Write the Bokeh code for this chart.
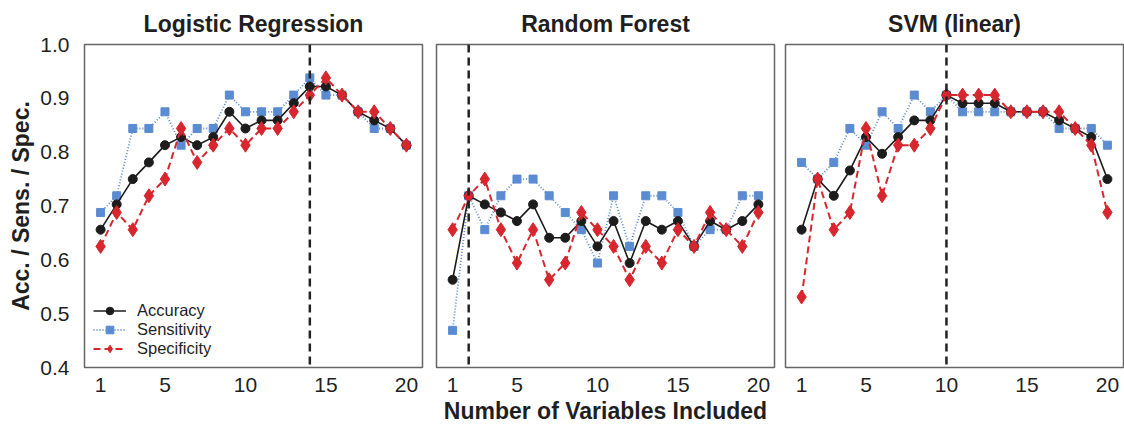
from bokeh.plotting import figure
from bokeh.layouts import row
from bokeh.models import Span, Legend, LegendItem, FixedTicker, NumeralTickFormatter, Range1d
from bokeh.embed import file_html
from bokeh.resources import INLINE

n_vars = list(range(1, 21))
titles = ["Logistic Regression", "Random Forest", "SVM (linear)"]
best_n = [14, 2, 10]
x_ticks = [1, 5, 10, 15, 20]
y_ticks = [0.4, 0.5, 0.6, 0.7, 0.8, 0.9, 1.0]

lr_acc = [0.656, 0.703, 0.750, 0.781, 0.813, 0.828, 0.813, 0.828, 0.875, 0.844,
          0.859, 0.859, 0.891, 0.922, 0.922, 0.906, 0.875, 0.859, 0.844, 0.813]
lr_sens = [0.688, 0.719, 0.844, 0.844, 0.875, 0.813, 0.844, 0.844, 0.906, 0.875,
           0.875, 0.875, 0.906, 0.938, 0.906, 0.906, 0.875, 0.844, 0.844, 0.813]
lr_spec = [0.625, 0.688, 0.656, 0.719, 0.750, 0.844, 0.781, 0.813, 0.844, 0.813,
           0.844, 0.844, 0.875, 0.906, 0.938, 0.906, 0.875, 0.875, 0.844, 0.813]

rf_acc = [0.563, 0.719, 0.703, 0.688, 0.672, 0.703, 0.641, 0.641, 0.672, 0.625,
          0.672, 0.594, 0.672, 0.656, 0.672, 0.625, 0.672, 0.656, 0.672, 0.703]
rf_sens = [0.469, 0.719, 0.656, 0.719, 0.750, 0.750, 0.719, 0.688, 0.656, 0.594,
           0.719, 0.625, 0.719, 0.719, 0.688, 0.625, 0.656, 0.656, 0.719, 0.719]
rf_spec = [0.656, 0.719, 0.750, 0.656, 0.594, 0.656, 0.563, 0.594, 0.688, 0.656,
           0.625, 0.563, 0.625, 0.594, 0.656, 0.625, 0.688, 0.656, 0.625, 0.688]

svm_acc = [0.656, 0.750, 0.719, 0.766, 0.828, 0.797, 0.828, 0.859, 0.859, 0.906,
           0.891, 0.891, 0.891, 0.875, 0.875, 0.875, 0.859, 0.844, 0.828, 0.750]
svm_sens = [0.781, 0.750, 0.781, 0.844, 0.813, 0.875, 0.844, 0.906, 0.875, 0.906,
            0.875, 0.875, 0.875, 0.875, 0.875, 0.875, 0.844, 0.844, 0.844, 0.813]
svm_spec = [0.531, 0.750, 0.656, 0.688, 0.844, 0.719, 0.813, 0.813, 0.844, 0.906,
            0.906, 0.906, 0.906, 0.875, 0.875, 0.875, 0.875, 0.844, 0.813, 0.688]

panels = [(lr_acc, lr_sens, lr_spec), (rf_acc, rf_sens, rf_spec), (svm_acc, svm_sens, svm_spec)]

FONT = "Liberation Sans"
BLACK = "#1c1c1c"
BLUE = "#5b8bd0"
RED = "#d7262d"
TXT = "#1f1f1f"

widths = [429, 350, 345]
borders = [(84, 7), (7, 5), (6, 1)]

figs = []
for i in range(3):
    acc, sens, spec = panels[i]
    bl, br = borders[i]
    p = figure(width=widths[i], height=427, x_range=Range1d(0, 21), y_range=Range1d(0.4, 1.0),
               output_backend="svg", toolbar_location=None,
               min_border_left=bl, min_border_right=br, min_border_top=43, min_border_bottom=60,
               title=titles[i])
    p.title.text_font = FONT
    p.title.text_font_size = "23px"
    p.title.text_font_style = "bold"
    p.title.text_color = TXT
    p.title.align = "center"
    p.title.standoff = 16
    p.background_fill_color = "white"
    p.border_fill_color = "white"
    p.outline_line_color = "#666666"
    p.outline_line_width = 1.5
    p.xgrid.visible = False
    p.ygrid.visible = False

    p.xaxis.ticker = FixedTicker(ticks=x_ticks)
    p.xaxis.axis_line_color = None
    p.xaxis.major_tick_line_color = None
    p.xaxis.minor_tick_line_color = None
    p.xaxis.major_label_standoff = 4
    p.xaxis.major_label_text_font = FONT
    p.xaxis.major_label_text_font_size = "21px"
    p.xaxis.major_label_text_color = TXT
    if i == 1:
        p.xaxis.axis_label = "Number of Variables Included"
        p.xaxis.axis_label_text_font = FONT
        p.xaxis.axis_label_text_font_size = "23px"
        p.xaxis.axis_label_text_font_style = "bold"
        p.xaxis.axis_label_text_color = TXT
        p.xaxis.axis_label_standoff = 3

    if i == 0:
        p.yaxis.ticker = FixedTicker(ticks=y_ticks)
        p.yaxis.formatter = NumeralTickFormatter(format="0.0")
        p.yaxis.axis_line_color = None
        p.yaxis.major_tick_line_color = None
        p.yaxis.minor_tick_line_color = None
        p.yaxis.major_label_standoff = 9
        p.yaxis.major_label_text_font = FONT
        p.yaxis.major_label_text_font_size = "21px"
        p.yaxis.major_label_text_color = TXT
        p.yaxis.axis_label = "Acc. / Sens. / Spec."
        p.yaxis.axis_label_text_font = FONT
        p.yaxis.axis_label_text_font_size = "23px"
        p.yaxis.axis_label_text_font_style = "bold"
        p.yaxis.axis_label_text_color = TXT
        p.yaxis.axis_label_standoff = 3
    else:
        p.yaxis.visible = False

    p.add_layout(Span(location=best_n[i], dimension="height", line_color="#222222",
                      line_width=2.5, line_dash="8 5"))

    sl = p.line(n_vars, sens, line_color=BLUE, line_width=1.8, line_dash="1 2")
    ss = p.scatter(n_vars, sens, marker="square", size=8, fill_color=BLUE, line_color=BLUE)
    al = p.line(n_vars, acc, line_color=BLACK, line_width=1.6)
    asc = p.scatter(n_vars, acc, marker="circle", size=9, fill_color=BLACK, line_color=BLACK)
    pl = p.line(n_vars, spec, line_color=RED, line_width=2, line_dash="7 4")
    ps = p.scatter(n_vars, spec, marker="diamond", size=14, fill_color=RED, line_color=RED)

    if i == 0:
        legend = Legend(items=[LegendItem(label="Accuracy", renderers=[al, asc]),
                               LegendItem(label="Sensitivity", renderers=[sl, ss]),
                               LegendItem(label="Specificity", renderers=[pl, ps])],
                        location=(9, 9), margin=0, padding=7,
                        border_line_color=None, background_fill_alpha=0,
                        label_text_font=FONT, label_text_font_size="16.5px",
                        label_text_color=TXT, glyph_width=33, glyph_height=19,
                        label_height=19, label_standoff=11, spacing=0)
        p.add_layout(legend)
    figs.append(p)

layout = row(*figs)
open("out.html", "w").write(file_html(layout, INLINE))
